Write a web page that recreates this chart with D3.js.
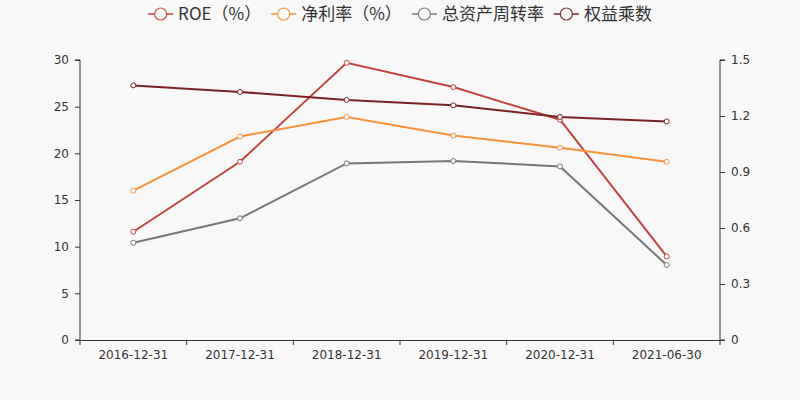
<!DOCTYPE html>
<html><head><meta charset="utf-8">
<script src="https://cdn.jsdelivr.net/npm/d3@7"></script>
<style>body{margin:0;background:#f8f8f8;}svg{display:block;font-family:"DejaVu Sans","Noto Sans CJK SC",sans-serif;}</style>
</head><body><svg id="c" width="800" height="400"></svg>
<script>
const categories = ["2016-12-31","2017-12-31","2018-12-31","2019-12-31","2020-12-31","2021-06-30"];
const roe = [11.6, 19.1, 29.7, 27.1, 23.6, 8.96];
const netMargin = [16.0, 21.8, 23.9, 21.9, 20.6, 19.1];
const assetTurnover = [0.521, 0.652, 0.946, 0.959, 0.930, 0.402];
const equityMultiplier = [1.364, 1.329, 1.286, 1.257, 1.195, 1.171];
const leftTicks = [0,5,10,15,20,25,30];
const rightTicks = [0,0.3,0.6,0.9,1.2,1.5];
const seriesNames = ["ROE（%）","净利率（%）","总资产周转率","权益乘数"];
const colors = ["#c4433f","#f7923a","#777777","#7b2324"];

const svg = d3.select("#c");
const m = {l:80, r:720, t:60, b:340};
const x = d3.scaleBand().domain(categories).range([m.l, m.r]);
const yL = d3.scaleLinear().domain([0,30]).range([m.b, m.t]);
const yR = d3.scaleLinear().domain([0,1.5]).range([m.b, m.t]);

const axL = svg.append("g").attr("transform",`translate(${m.l},0)`)
  .call(d3.axisLeft(yL).tickValues(leftTicks).tickSize(5).tickPadding(6));
const axR = svg.append("g").attr("transform",`translate(${m.r},0)`)
  .call(d3.axisRight(yR).tickValues(rightTicks).tickSize(5).tickPadding(6).tickFormat(d=>d===0?"0":d3.format(".1f")(d)));
const axB = svg.append("g").attr("transform",`translate(0,${m.b})`)
  .call(d3.axisBottom(x).tickSize(0).tickPadding(10));
axB.selectAll(".bt").data(d3.range(categories.length+1)).enter().append("line")
  .attr("x1",i=>m.l+i*x.bandwidth()).attr("x2",i=>m.l+i*x.bandwidth())
  .attr("y1",0).attr("y2",5).attr("stroke","#333");
[axL,axR,axB].forEach(a=>{
  a.selectAll("path,line").attr("stroke","#333");
  a.selectAll("text").attr("fill","#333").style("font-size","12px").style("font-family","DejaVu Sans");
});
axL.select(".domain").attr("d",`M-5,${m.b}H0V${m.t}H-5`);
axR.select(".domain").attr("d",`M5,${m.b}H0V${m.t}H5`);

const data = [
  {vals:roe, y:yL},
  {vals:netMargin, y:yL},
  {vals:assetTurnover, y:yR},
  {vals:equityMultiplier, y:yR}
];
data.forEach((s,i)=>{
  const line = d3.line().x((d,j)=>x(categories[j])+x.bandwidth()/2).y(d=>s.y(d));
  svg.append("path").attr("d",line(s.vals)).attr("fill","none").attr("stroke",colors[i]).attr("stroke-width",2);
  svg.selectAll(null).data(s.vals).enter().append("circle")
    .attr("cx",(d,j)=>x(categories[j])+x.bandwidth()/2).attr("cy",d=>s.y(d)).attr("r",2.5)
    .attr("fill","#fff").attr("stroke",colors[i]).attr("stroke-width",1);
});

// legend
const lg = svg.append("g");
let cx = 0;
const gap = 10;
seriesNames.forEach((n,i)=>{
  const g = lg.append("g");
  g.append("line").attr("x1",0).attr("x2",25).attr("y1",0).attr("y2",0).attr("stroke",colors[i]).attr("stroke-width",2).attr("opacity",0.75);
  g.append("circle").attr("cx",12.5).attr("cy",0).attr("r",6).attr("fill","#fff").attr("stroke",colors[i]).attr("stroke-width",1.2).attr("opacity",0.9);
  const t = g.append("text").attr("x",30).attr("y",0).attr("dy","0.35em").attr("fill","#333")
    .style("font-family","'Noto Sans CJK SC'").style("font-size","17px").text(n);
  const w = 30 + t.node().getComputedTextLength();
  g.attr("transform",`translate(${cx},14)`);
  cx += w + gap;
});
const total = cx - gap;
lg.attr("transform",`translate(${400-total/2},0)`);
</script></body></html>
